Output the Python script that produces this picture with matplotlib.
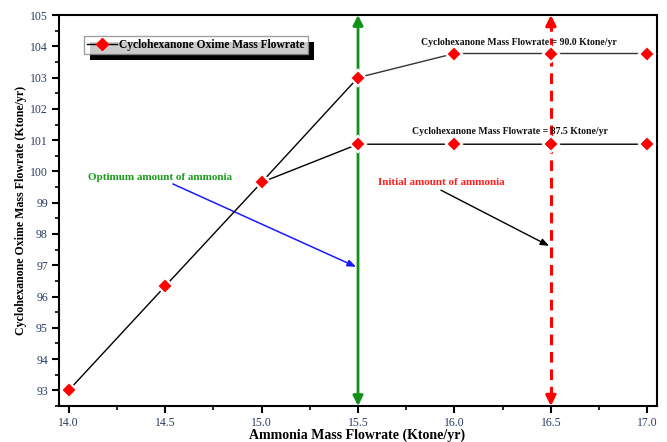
import matplotlib
matplotlib.use("Agg")
import matplotlib.pyplot as plt
from matplotlib.patches import Rectangle
from matplotlib.lines import Line2D
from matplotlib.ticker import MultipleLocator

plt.rcParams['font.family'] = ['Liberation Serif', 'DejaVu Serif']

# Oxime flowrate vs ammonia flowrate
x_base = [14.0, 14.5, 15.0]
y_base = [93.0, 96.33, 99.65]
x_branch = [15.0, 15.5, 16.0, 16.5, 17.0]
y_high = [99.65, 103.0, 103.77, 103.77, 103.77]   # cyclohexanone 90.0 Ktone/yr
y_low = [99.65, 100.87, 100.87, 100.87, 100.87]   # cyclohexanone 87.5 Ktone/yr

optimum_x = 15.5
initial_x = 16.5

x_ticks = [14.0, 14.5, 15.0, 15.5, 16.0, 16.5, 17.0]
y_ticks = [93, 94, 95, 96, 97, 98, 99, 100, 101, 102, 103, 104, 105]

series_label = "Cyclohexanone Oxime Mass Flowrate"
label_high = "Cyclohexanone Mass Flowrate = 90.0 Ktone/yr"
label_low = "Cyclohexanone Mass Flowrate = 87.5 Ktone/yr"

fig = plt.figure(figsize=(6.67, 4.42), dpi=100)
ax = fig.add_axes([0.0885, 0.0814, 0.8965, 0.8846])
ymin, ymax = 92.5, 105
ax.set_xlim(13.95, 17.05)
ax.set_ylim(ymin, ymax)

mk = dict(marker='D', markersize=8.5, markerfacecolor='red',
          markeredgecolor='white', markeredgewidth=1.6)

ax.plot(x_base + [x_branch[1]], y_base + [y_high[1]],
        color='black', lw=1.0, zorder=4, **mk)
ax.plot(x_branch[1:], y_high[1:], color='#333333', lw=1.0, zorder=4, **mk)
ax.plot(x_branch, y_low, color='black', lw=1.0, zorder=4, **mk)
# redraw the shared point on top so it stays a clean diamond
ax.plot([x_base[-1]], [y_base[-1]], linestyle='none', zorder=5, **mk)

# Vertical markers: optimum (green, solid) and initial (red, dashed)
head = 'head_length=0.6,head_width=0.3'
ax.annotate('', xy=(optimum_x, ymax), xytext=(optimum_x, ymin),
            arrowprops=dict(arrowstyle='<|-|>,' + head, color='#11901a',
                            lw=2.0, shrinkA=0, shrinkB=0), zorder=3)

ax.plot([initial_x, initial_x], [ymin + 0.3, ymax - 0.3], color='red',
        lw=2.2, linestyle=(0, (3.5, 2.2)), zorder=3)
for tip, tail in ((ymax, ymax - 0.35), (ymin, ymin + 0.35)):
    ax.annotate('', xy=(initial_x, tip), xytext=(initial_x, tail),
                arrowprops=dict(arrowstyle='-|>,' + head, color='red',
                                lw=2.2, shrinkA=0, shrinkB=0), zorder=3)

# Callouts
ax.text(14.1, 99.82, "Optimum amount of ammonia", color='#1a9a1a',
        fontsize=8, fontweight='bold', ha='left', va='center')
ax.annotate('', xy=(optimum_x - 0.01, 96.95), xytext=(14.54, 99.6),
            arrowprops=dict(arrowstyle='-|>,head_length=0.5,head_width=0.2',
                            color='#1a1aff', lw=1.1, shrinkA=0, shrinkB=0))
ax.text(15.606, 99.66, "Initial amount of ammonia", color='#ff2020',
        fontsize=8, fontweight='bold', ha='left', va='center')
ax.annotate('', xy=(initial_x - 0.01, 97.62), xytext=(15.93, 99.4),
            arrowprops=dict(arrowstyle='-|>,head_length=0.5,head_width=0.2',
                            color='black', lw=1.0, shrinkA=0, shrinkB=0))

ax.text(16.335, 104.13, label_high, fontsize=7, fontweight='bold',
        ha='center', va='center', color='#111111')
ax.text(16.29, 101.28, label_low, fontsize=7, fontweight='bold',
        ha='center', va='center', color='#111111')

# Axes styling
ax.set_xticks(x_ticks)
ax.set_xticklabels([f"{v:.1f}" for v in x_ticks])
ax.set_yticks(y_ticks)
ax.xaxis.set_minor_locator(MultipleLocator(0.25))
ax.yaxis.set_minor_locator(MultipleLocator(0.5))
ax.tick_params(which='major', direction='out', length=5, width=1.5,
               labelsize=8.5, labelcolor='#2b3b63', pad=3)
ax.tick_params(which='minor', direction='out', length=3, width=1.2)
for s in ax.spines.values():
    s.set_linewidth(1.5)

fig.text(0.5352, 0.016, "Ammonia Mass Flowrate (Ktone/yr)", fontsize=10,
         fontweight='bold', ha='center', va='center')
fig.text(0.031, 0.523, "Cyclohexanone Oxime Mass Flowrate (Ktone/yr)",
         fontsize=8.6, fontweight='bold', rotation=90, ha='center',
         va='center')

handle = Line2D([], [], color='black', lw=1.0, marker='D', markersize=6.5,
                markerfacecolor='red', markeredgecolor='red')
leg = ax.legend([handle], [series_label], loc='upper left',
                bbox_to_anchor=(0.042, 0.946), frameon=True, fancybox=False,
                prop=dict(size=8.3, weight='bold'), handlelength=2.6,
                handletextpad=0.2, borderpad=0.25, borderaxespad=0)
leg.get_frame().set_edgecolor('#888888')
leg.get_frame().set_linewidth(1.0)
leg.set_zorder(10)

# Offset drop shadow behind the legend box
fig.canvas.draw()
bb = leg.get_window_extent().transformed(fig.transFigure.inverted())
dx, dy = 6 / 667, -6 / 442
shadow = Rectangle((bb.x0 + dx, bb.y0 + dy), bb.width, bb.height,
                   transform=fig.transFigure, facecolor='black',
                   edgecolor='none', zorder=9, clip_on=False)
ax.add_patch(shadow)

fig.savefig("out.png", dpi=100)
